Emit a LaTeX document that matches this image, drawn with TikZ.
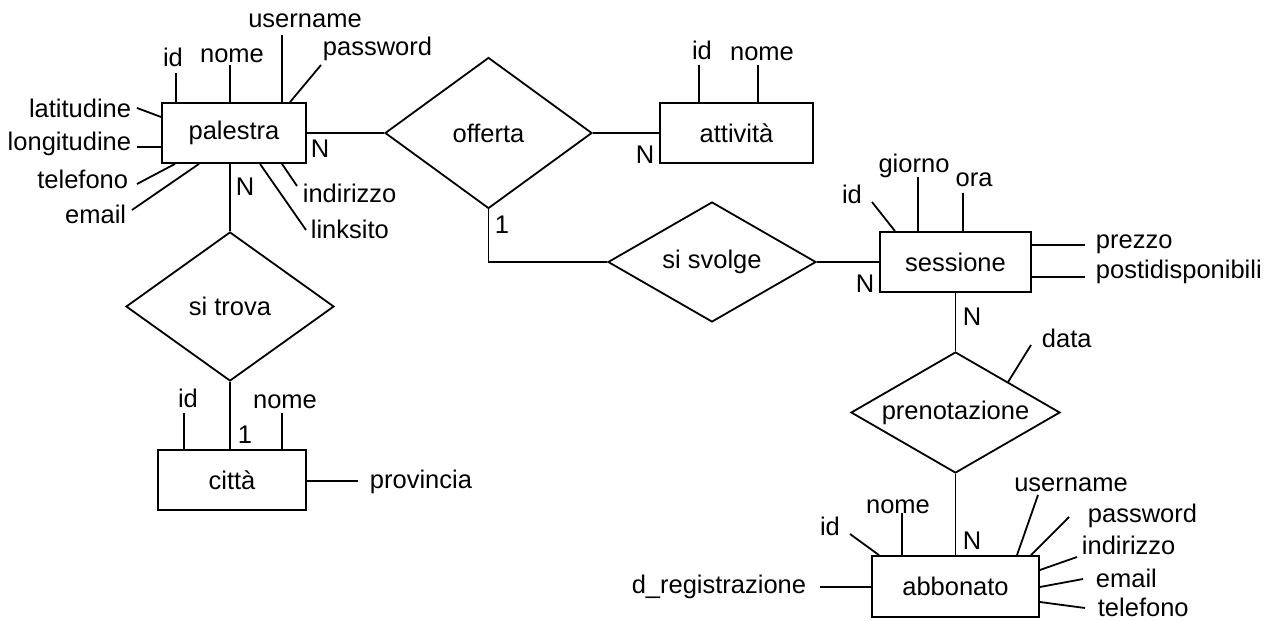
\documentclass[tikz,border=0pt]{standalone}
\usepackage{fontspec}
\setmainfont{Liberation Sans}
\usetikzlibrary{shapes.geometric,calc}

\tikzset{
  entity/.style={draw, rectangle, inner sep=0pt, minimum height=30pt},
  relation/.style={draw, diamond, aspect=1.7, inner sep=0pt},
  attr/.style={inner sep=0pt},
  card/.style={inner sep=0pt}
}

\begin{document}
\begin{tikzpicture}[x=0.5pt, y=-0.5pt, line width=0.9pt, font=\fontsize{12.75}{15}\selectfont]
  \useasboundingbox (0,0) rectangle (1275,621);

  % entita'
  \node[entity, minimum width=72pt]   (palestra) at (234,133)   {palestra};
  \node[entity, minimum width=76.5pt] (attivita) at (736.5,133) {attività};
  \node[entity, minimum width=75.5pt] (sessione) at (955.5,262) {sessione};
  \node[entity, minimum width=74pt]   (citta)    at (232,480)   {città};
  \node[entity, minimum width=83.5pt, minimum height=30.5pt] (abbonato) at (955.5,586.5) {abbonato};

  % relazioni
  \node[relation, minimum width=103.5pt, minimum height=75.5pt] (offerta)      at (488.5,133)   {offerta};
  \node[relation, minimum width=104pt,   minimum height=60pt]   (sisvolge)     at (712,262)     {si svolge};
  \node[relation, minimum width=104pt,   minimum height=74.5pt] (sitrova)      at (230,306.5)   {si trova};
  \node[relation, minimum width=104.5pt, minimum height=60.5pt] (prenotazione) at (955.5,412.5) {prenotazione};

  % collegamenti
  \draw (palestra.east) -- (offerta.west);
  \draw (offerta.east) -- (attivita.west);
  \draw (offerta.south) |- (sisvolge.west);
  \draw (sisvolge.east) -- (sessione.west);
  \draw (sitrova.north |- palestra.south) -- (sitrova.north);
  \draw (sitrova.south) -- (sitrova.south |- citta.north);
  \draw (sessione.south) -- (prenotazione.north);
  \draw (prenotazione.south) -- (abbonato.north);

  % cardinalita'
  \node[card, anchor=base] (c-pa-st)  at (245,195) {N};
  \node[card, anchor=base] (c-pa-of)  at (320,157) {N};
  \node[card, anchor=base] (c-at-of)  at (645,163) {N};
  \node[card, anchor=base] (c-of-sv)  at (502,233) {1};
  \node[card, anchor=base] (c-se-sv)  at (865,292) {N};
  \node[card, anchor=base] (c-se-pr)  at (972,325) {N};
  \node[card, anchor=base] (c-ab-pr)  at (972,549) {N};
  \node[card, anchor=base] (c-ci-st)  at (245,443) {1};

  % attributi palestra
  \coordinate (pa-id-e)    at (176,73);
  \coordinate (pa-nome-e)  at (230,65);
  \coordinate (pa-user-e)  at (282,35);
  \coordinate (pa-pw-e)    at (321,65);
  \coordinate (pa-lat-e)   at (137,108);
  \coordinate (pa-long-e)  at (137,147);
  \coordinate (pa-tel-e)   at (137,184);
  \coordinate (pa-email-e) at (132,210);
  \coordinate (pa-ind-e)   at (297,186);
  \coordinate (pa-link-e)  at (306,230);
  \draw (palestra.north -| pa-id-e) -- (pa-id-e);
  \draw (palestra.north -| pa-nome-e) -- (pa-nome-e);
  \draw (palestra.north -| pa-user-e) -- (pa-user-e);
  \draw (palestra.north -| 290,0) -- (pa-pw-e);
  \draw (palestra.west |- 0,117) -- (pa-lat-e);
  \draw (palestra.west |- pa-long-e) -- (pa-long-e);
  \draw (palestra.south -| 175,0) -- (pa-tel-e);
  \draw (palestra.south -| 199,0) -- (pa-email-e);
  \draw (palestra.south -| 282,0) -- (pa-ind-e);
  \draw (palestra.south -| 260,0) -- (pa-link-e);
  \node[attr, anchor=base]      (pa-id)    at (173,66)  {id};
  \node[attr, anchor=base]      (pa-nome)  at (232,62)  {nome};
  \node[attr, anchor=base]      (pa-user)  at (305,27)  {username};
  \node[attr, anchor=base west] (pa-pw)    at (322,55)  {password};
  \node[attr, anchor=base east] (pa-lat)   at (132,117) {latitudine};
  \node[attr, anchor=base east] (pa-long)  at (132,150) {longitudine};
  \node[attr, anchor=base east] (pa-tel)   at (129,188) {telefono};
  \node[attr, anchor=base east] (pa-email) at (127,223) {email};
  \node[attr, anchor=base west] (pa-ind)   at (302,202) {indirizzo};
  \node[attr, anchor=base west] (pa-link)  at (310,238) {linksito};

  % attributi attivita'
  \coordinate (at-id-e)   at (699,65);
  \coordinate (at-nome-e) at (758,65);
  \draw (attivita.north -| at-id-e) -- (at-id-e);
  \draw (attivita.north -| at-nome-e) -- (at-nome-e);
  \node[attr, anchor=base] (at-id)   at (702,59) {id};
  \node[attr, anchor=base] (at-nome) at (762,61) {nome};

  % attributi sessione
  \coordinate (se-id-e)     at (872,202);
  \coordinate (se-giorno-e) at (918,177);
  \coordinate (se-ora-e)    at (963,193);
  \coordinate (se-prez-e)   at (1085,245);
  \coordinate (se-posti-e)  at (1085,277);
  \draw (sessione.north -| 895,0) -- (se-id-e);
  \draw (sessione.north -| se-giorno-e) -- (se-giorno-e);
  \draw (sessione.north -| se-ora-e) -- (se-ora-e);
  \draw (sessione.east |- se-prez-e) -- (se-prez-e);
  \draw (sessione.east |- se-posti-e) -- (se-posti-e);
  \node[attr, anchor=base]      (se-id)     at (852,203)  {id};
  \node[attr, anchor=base]      (se-giorno) at (914,172)  {giorno};
  \node[attr, anchor=base]      (se-ora)    at (974,186)  {ora};
  \node[attr, anchor=base west] (se-prez)   at (1095,248) {prezzo};
  \node[attr, anchor=base west] (se-posti)  at (1095,278) {postidisponibili};

  % attributo prenotazione
  \coordinate (pr-data-e) at (1031,345);
  \draw ($(prenotazione.north)!0.5!(prenotazione.east)$) -- (pr-data-e);
  \node[attr, anchor=base west] (pr-data) at (1041,347) {data};

  % attributi citta'
  \coordinate (ci-id-e)   at (184,413);
  \coordinate (ci-nome-e) at (282,413);
  \coordinate (ci-prov-e) at (358,481);
  \draw (citta.north -| ci-id-e) -- (ci-id-e);
  \draw (citta.north -| ci-nome-e) -- (ci-nome-e);
  \draw (citta.east |- ci-prov-e) -- (ci-prov-e);
  \node[attr, anchor=base]      (ci-id)   at (188,407) {id};
  \node[attr, anchor=base]      (ci-nome) at (285,408) {nome};
  \node[attr, anchor=base west] (ci-prov) at (369,488) {provincia};

  % attributi abbonato
  \coordinate (ab-id-e)    at (850,534);
  \coordinate (ab-nome-e)  at (902,513);
  \coordinate (ab-user-e)  at (1038,495);
  \coordinate (ab-pw-e)    at (1069,517);
  \coordinate (ab-ind-e)   at (1077,557);
  \coordinate (ab-email-e) at (1083,579);
  \coordinate (ab-tel-e)   at (1085,608);
  \coordinate (ab-dreg-e)  at (820,587);
  \draw (abbonato.north -| 879,0) -- (ab-id-e);
  \draw (abbonato.north -| ab-nome-e) -- (ab-nome-e);
  \draw (abbonato.north -| 1017,0) -- (ab-user-e);
  \draw (abbonato.north -| 1031,0) -- (ab-pw-e);
  \draw (abbonato.east |- 0,570) -- (ab-ind-e);
  \draw (abbonato.east |- 0,587) -- (ab-email-e);
  \draw (abbonato.east |- 0,602) -- (ab-tel-e);
  \draw (abbonato.west |- ab-dreg-e) -- (ab-dreg-e);
  \node[attr, anchor=base]      (ab-id)    at (830,535)  {id};
  \node[attr, anchor=base]      (ab-nome)  at (898,513)  {nome};
  \node[attr, anchor=base]      (ab-user)  at (1071,491) {username};
  \node[attr, anchor=base west] (ab-pw)    at (1087,522) {password};
  \node[attr, anchor=base west] (ab-ind)   at (1081,554) {indirizzo};
  \node[attr, anchor=base west] (ab-email) at (1095,587) {email};
  \node[attr, anchor=base west] (ab-tel)   at (1097,616) {telefono};
  \node[attr, anchor=base east] (ab-dreg)  at (807,593)  {d\_registrazione};
\end{tikzpicture}
\end{document}
